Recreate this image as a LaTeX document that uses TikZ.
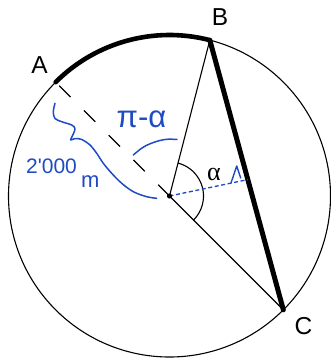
\documentclass[tikz,border=0pt]{standalone}
\usepackage{fontspec}
\setmainfont{Liberation Sans}
\newfontfamily\handfont{Liberation Sans}
\newfontfamily\serifgreek{Liberation Serif}
\usetikzlibrary{calc}
\definecolor{pen}{RGB}{30,75,195}
\begin{document}
\begin{tikzpicture}[x=1pt,y=1pt,
  thinline/.style={line width=1.1pt,black},
  thickline/.style={line width=4.6pt,black,line cap=round},
  dashline/.style={line width=1.1pt,black,dash pattern=on 16pt off 19pt,dash phase=-5pt},
  bluedash/.style={line width=1.3pt,pen,dash pattern=on 4pt off 2.6pt},
  pencurve/.style={line width=1.5pt,pen,line cap=round,line join=round},
  lbl/.style={inner sep=0pt,font=\fontsize{24.5}{28}\selectfont},
  hand/.style={inner sep=0pt,text=pen}]
\useasboundingbox (0,0) rectangle (331,-361);
\coordinate (O) at (169.5,-196);
\coordinate (A) at ($(O)+(135:161)$);
\coordinate (B) at ($(O)+(75.5:161)$);
\coordinate (C) at ($(O)+(-45:161)$);
\coordinate (F) at ($(B)!0.517!(C)$);
% circle
\draw[thinline] (O) circle[radius=161];
% thick arc A-B
\draw[thickline] (A) arc[start angle=135,end angle=75.5,radius=161];
% radii
\draw[thinline] (O) -- (B);
\draw[thinline] (O) -- (C);
\draw[dashline] (A) -- (O);
% thick chord
\draw[thickline,line width=5pt] (B) -- (C);
% alpha arc
\draw[thinline] ($(O)+(75.5:34)$) arc[start angle=75.5,end angle=-45,radius=34];
% blue dashed to chord
\draw[bluedash] (O) -- (F);
\fill (O) circle[radius=2.6];
% blue tick mark
\coordinate (t1) at (231,-183);
\coordinate (t2) at (236.7,-166);
\coordinate (t3) at (240.7,-178);
\draw[pencurve,line width=1.4pt] (t1) -- (t2) -- (t3);
% pi-alpha arc
\draw[pencurve] plot[smooth,tension=0.6] coordinates {(133.3,-155) (142,-148) (150,-143.8) (160,-140.5) (168,-139.2) (177,-139.5)};
% brace squiggle
\draw[pencurve] plot[smooth,tension=0.55] coordinates {(55,-103.3) (53.3,-111.7) (55,-118.5) (62,-121.8) (71.7,-125) (75,-128.5) (73.5,-133.5) (70.7,-140) (75,-138.5) (81.7,-139.5) (90,-145) (96.7,-153.3) (103.3,-163.3) (111.7,-173.3) (121.7,-183.3) (133.3,-191.7) (146.7,-196.7) (156.7,-198.3)};
% labels
\node[lbl] (lA) at (39.5,-65.3) {A};
\node[lbl] (lB) at (220,-17.5) {B};
\node[lbl] (lC) at (303.5,-326.5) {C};
\node[inner sep=0pt,font=\serifgreek\fontsize{26}{30}\selectfont] (al) at (214,-174) {α};
\node[hand,anchor=base,font=\handfont\fontsize{31}{34}\selectfont] (pa) at (141.5,-127) {π-α};
\node[hand,anchor=base west,font=\handfont\fontsize{21}{24}\selectfont] (dist) at (26,-173) {2'000};
\node[hand,anchor=base west,font=\handfont\fontsize{22}{24}\selectfont] (unit) at (81,-187) {m};
\end{tikzpicture}
\end{document}
